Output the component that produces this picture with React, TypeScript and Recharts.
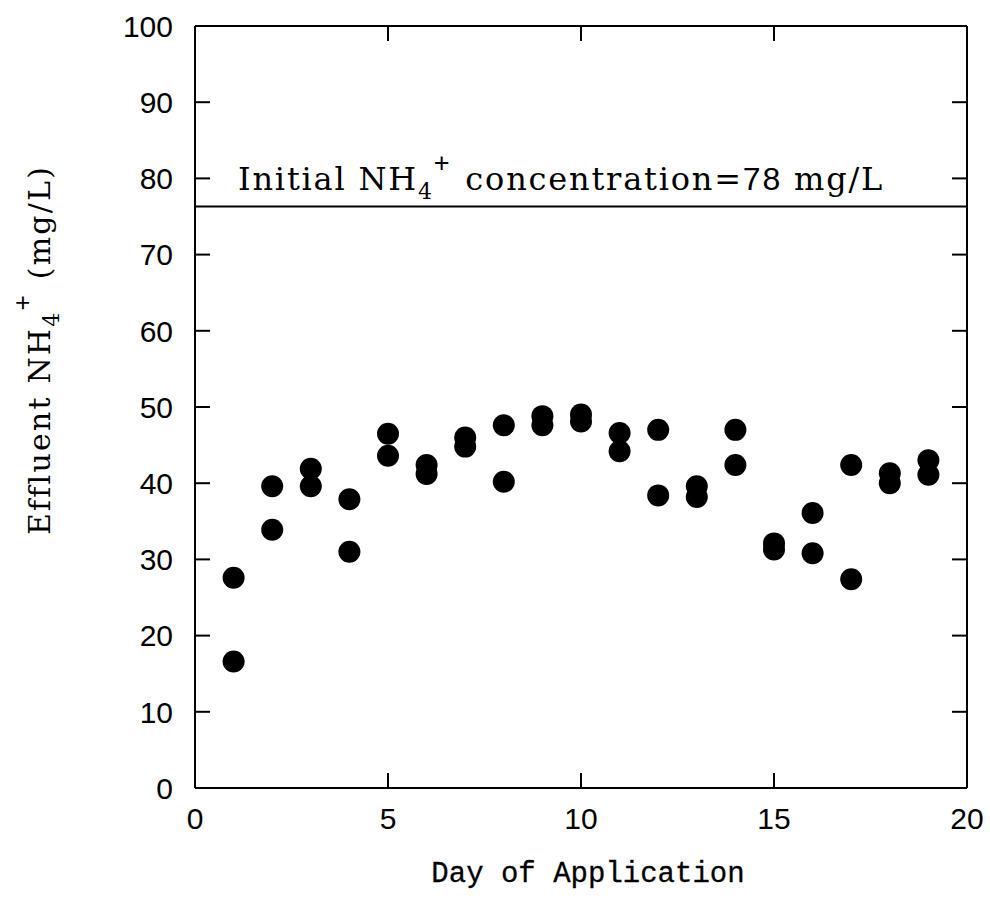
import React from 'react';
import { ScatterChart, Scatter, XAxis, YAxis, ReferenceLine } from 'recharts';

const days = [1, 2, 3, 4, 5, 6, 7, 8, 9, 10, 11, 12, 13, 14, 15, 16, 17, 18, 19];
const runA = [27.6, 39.6, 41.9, 37.9, 46.5, 42.4, 46.0, 47.6, 48.8, 49.0, 46.6, 47.0, 39.6, 47.0, 32.1, 36.1, 42.4, 41.3, 43.0];
const runB = [16.6, 33.9, 39.6, 31.0, 43.6, 41.2, 44.8, 40.2, 47.6, 48.1, 44.2, 38.4, 38.2, 42.4, 31.3, 30.8, 27.4, 40.0, 41.1];
const xTicks = [0, 5, 10, 15, 20];
const yTicks = [0, 10, 20, 30, 40, 50, 60, 70, 80, 90, 100];
const initialLevel = 76.3;

const dataA = days.map((d, i) => ({ day: d, value: runA[i] }));
const dataB = days.map((d, i) => ({ day: d, value: runB[i] }));

// plot frame in page pixels
const PLOT = { left: 195, right: 967, top: 26, bottom: 788 };
const TICK_LEN = 15;
const serif = 'DejaVu Serif';

const Dot = (props: any) => <circle cx={props.cx} cy={props.cy} r={11} fill="#000" />;

const YTick = (props: any) => {
  const { x, y, payload } = props;
  return (
    <g>
      <text x={x} y={y} dy="0.36em" textAnchor="end" fontFamily="Liberation Sans" fontSize={30} fill="#000">
        {payload.value}
      </text>
      <line x1={PLOT.left} x2={PLOT.left + TICK_LEN} y1={y} y2={y} stroke="#000" strokeWidth={2} />
      <line x1={PLOT.right - TICK_LEN} x2={PLOT.right} y1={y} y2={y} stroke="#000" strokeWidth={2} />
    </g>
  );
};

const XTick = (props: any) => {
  const { x, y, payload } = props;
  return (
    <g>
      <text x={x} y={y} dy="0.72em" textAnchor="middle" fontFamily="Liberation Sans" fontSize={30} fill="#000">
        {payload.value}
      </text>
      <line x1={x} x2={x} y1={PLOT.bottom} y2={PLOT.bottom - TICK_LEN} stroke="#000" strokeWidth={2} />
      <line x1={x} x2={x} y1={PLOT.top} y2={PLOT.top + TICK_LEN} stroke="#000" strokeWidth={2} />
    </g>
  );
};

const AnnotationLabel = (props: any) => {
  const vb = props.viewBox || {};
  return (
    <text x={vb.x + 43} y={vb.y - 17} fontFamily={serif} fontSize={32} letterSpacing={1.8} fill="#000">
      Initial NH
      <tspan fontSize={22} dy={9}>4</tspan>
      <tspan fontFamily="Liberation Sans" fontSize={27} dy={-27}>+</tspan>
      <tspan dy={18} dx={14}>concentration=</tspan>
      <tspan fontFamily="Liberation Sans" fontSize={32}>78</tspan>
      <tspan dx={12}>mg/L</tspan>
    </text>
  );
};

const YTitle = () => (
  <text
    x={50}
    y={350}
    transform="rotate(-90, 50, 350)"
    textAnchor="middle"
    fontFamily={serif}
    fontSize={30}
    letterSpacing={2.2}
    fill="#000"
  >
    Effluent NH
    <tspan fontSize={22} dy={9}>4</tspan>
    <tspan fontFamily="Liberation Sans" fontSize={26} dy={-28}>+</tspan>
    <tspan dy={19} dx={14}>(mg/L)</tspan>
  </text>
);

const XTitle = () => (
  <text
    x={588}
    y={882}
    textAnchor="middle"
    fontFamily="Liberation Mono"
    fontSize={29}
    fill="#000"
    stroke="#000"
    strokeWidth={0.3}
  >
    Day of Application
  </text>
);

export default function App() {
  const frame = { stroke: '#000', strokeWidth: 2 };
  return (
    <div style={{ position: 'absolute', left: 0, top: 0, background: '#fff' }}>
      <ScatterChart
        width={990}
        height={917}
        margin={{ top: PLOT.top, right: 990 - PLOT.right, bottom: 917 - PLOT.bottom - 60, left: PLOT.left - 80 }}
      >
        <XAxis
          xAxisId="b"
          type="number"
          dataKey="day"
          domain={[0, 20]}
          ticks={xTicks}
          interval={0}
          tickLine={false}
          tickSize={0}
          tickMargin={19}
          height={60}
          axisLine={frame}
          tick={<XTick />}
          label={{ content: () => <XTitle /> }}
        />
        <XAxis
          xAxisId="t"
          type="number"
          dataKey="day"
          orientation="top"
          mirror
          domain={[0, 20]}
          ticks={xTicks}
          axisLine={frame}
          tickLine={false}
          tick={false}
        />
        <YAxis
          yAxisId="l"
          type="number"
          dataKey="value"
          domain={[0, 100]}
          ticks={yTicks}
          interval={0}
          width={80}
          tickLine={false}
          tickSize={0}
          tickMargin={22}
          axisLine={frame}
          tick={<YTick />}
          label={{ content: () => <YTitle /> }}
        />
        <YAxis
          yAxisId="r"
          type="number"
          dataKey="value"
          orientation="right"
          mirror
          domain={[0, 100]}
          ticks={yTicks}
          axisLine={frame}
          tickLine={false}
          tick={false}
        />
        <ReferenceLine
          xAxisId="b"
          yAxisId="l"
          y={initialLevel}
          stroke="#000"
          strokeWidth={2}
          label={{ content: AnnotationLabel }}
        />
        <Scatter xAxisId="b" yAxisId="l" data={dataA} shape={Dot} isAnimationActive={false} />
        <Scatter xAxisId="b" yAxisId="l" data={dataB} shape={Dot} isAnimationActive={false} />
      </ScatterChart>
    </div>
  );
}
